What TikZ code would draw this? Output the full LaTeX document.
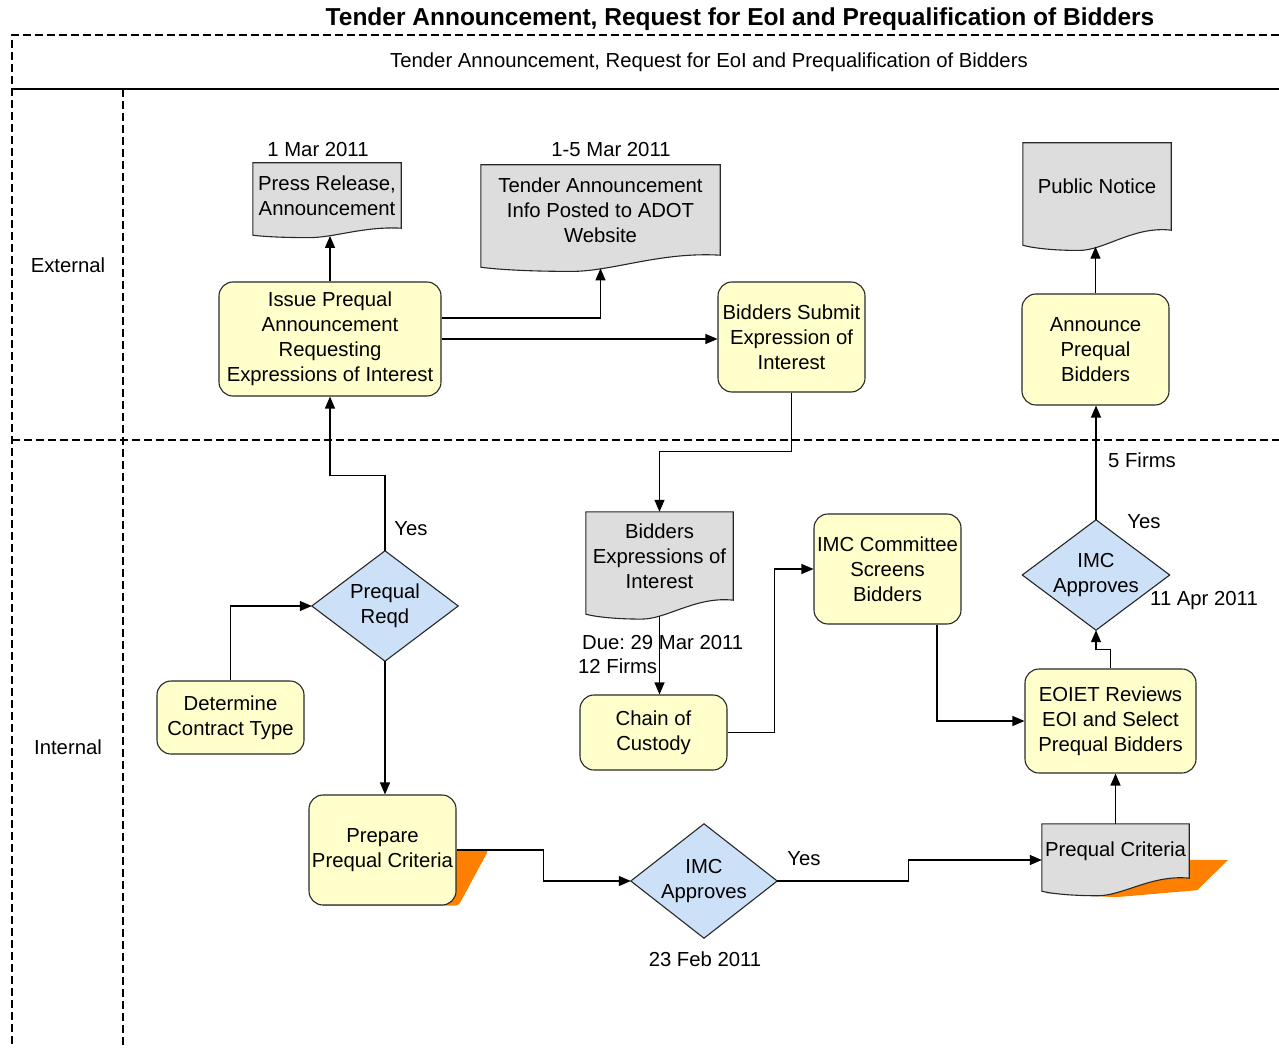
\documentclass[tikz,border=0pt]{standalone}
\usepackage{fontspec}
\setmainfont{Liberation Sans}
\usetikzlibrary{arrows.meta,calc,backgrounds}
\frenchspacing

\definecolor{boxyellow}{RGB}{255,255,204}
\definecolor{docgrey}{RGB}{221,221,221}
\definecolor{decblue}{RGB}{204,224,248}
\definecolor{shadeorange}{RGB}{255,128,0}
\definecolor{edge}{RGB}{40,40,40}

% Paper-document outline with a wavy lower edge, drawn behind the named node #1;
% #2 is the depth of the wave. Also defines (#1-b), a point on the wave below the centre.
\newcommand\docpaper[2]{%
  \coordinate (#1-b) at ($(#1.south)+(0,1.1*#2)$);
  \begin{scope}[on background layer]
    \draw[draw=edge, line width=1.1pt, fill=docgrey]
      (#1.north west) -- (#1.north east) -- (#1.south east)
      .. controls ($(#1.south east)!0.25!(#1.south west)+(0,-0.3*#2)$)
              and ($(#1.south east)!0.45!(#1.south west)+(0,1.35*#2)$)
      .. ($(#1.south east)!0.62!(#1.south west)+(0,1.35*#2)$)
      .. controls ($(#1.south east)!0.82!(#1.south west)+(0,1.35*#2)$)
              and ($(#1.south east)!0.95!(#1.south west)+(0,1.15*#2)$)
      .. ($(#1.south west)+(0,#2)$) -- cycle;
  \end{scope}}

% Decision diamond through the four side anchors of node #1
\newcommand\decisionshape[1]{%
  \begin{scope}[on background layer]
    \draw[draw=edge, line width=1.1pt, fill=decblue]
      (#1.north) -- (#1.east) -- (#1.south) -- (#1.west) -- cycle;
  \end{scope}}

\begin{document}
\begin{tikzpicture}[x=1pt, y=-1pt,
  every node/.style={font=\fontsize{20.3}{25}\selectfont, text=black},
  stepbox/.style={draw=edge, line width=1.1pt, fill=boxyellow, rounded corners=14pt,
                  align=center, inner sep=0pt, minimum width=147pt, minimum height=110pt},
  docbox/.style={align=center, inner sep=0pt, minimum width=147pt},
  decbox/.style={align=center, inner sep=0pt, minimum width=146pt, minimum height=110pt},
  link/.style={line width=1.2pt, draw=black, -{Triangle[length=12pt,width=10pt]}},
  lane/.style={line width=1.2pt, dash pattern=on 8pt off 4pt},
  lbl/.style={inner sep=0pt}]

\useasboundingbox (0,0) rectangle (1279,1048);
\begin{scope}[on background layer]
  \fill[white] (0,0) rectangle (1279,1048);
\end{scope}

% ---------- frame and swimlanes ----------
\draw[lane] (1279,35) -- (12,35) -- (12,1048);
\draw[line width=1.6pt] (12,89) -- (1279,89);
\draw[lane] (123,89) -- (123,1048);
\draw[lane] (12,440) -- (1279,440);

\node[lbl, font=\fontsize{24.5}{29}\selectfont\bfseries] (title) at (740,19)
  {Tender Announcement, Request for EoI and Prequalification of Bidders};
\node[lbl] (header) at (709,62)
  {Tender Announcement, Request for EoI and Prequalification of Bidders};
\node[lbl] (extlane) at (68,265) {External};
\node[lbl] (intlane) at (68,747) {Internal};

% ---------- process steps ----------
\node[stepbox, minimum width=222pt, minimum height=114pt] (issue) at (330,339)
  {Issue Prequal\\Announcement\\Requesting\\Expressions of Interest};
\node[stepbox] (bsubmit) at (791.5,337) {Bidders Submit\\Expression of\\Interest};
\node[stepbox, minimum height=111pt] (announce) at (1095.5,349.5) {Announce\\Prequal\\Bidders};
\node[stepbox, minimum height=73pt] (determine) at (230.5,717.5) {Determine\\Contract Type};
\node[stepbox, minimum height=75pt] (chain) at (653.5,732.5) {Chain of\\Custody};
\node[stepbox] (imcscreen) at (887.5,569) {IMC Committee\\Screens\\Bidders};
\node[stepbox, minimum width=171pt, minimum height=104pt] (eoiet) at (1110.5,721)
  {EOIET Reviews\\EOI and Select\\Prequal Bidders};

% Prepare Prequal Criteria with its orange backing
\node[stepbox] (prepare) at (382.5,850) {Prepare\\Prequal Criteria};
\begin{scope}[on background layer]
  \fill[shadeorange, rounded corners=3pt]
    ($(prepare.east)+(-30,0)$) -- ($(prepare.east)+(32,0)$)
    -- ($(prepare.south east)+(2,0)$) -- ($(prepare.south west)+(12,0)$)
    -- ($(prepare.south west)+(12,-40)$) -- cycle;
\end{scope}

% ---------- decisions ----------
\node[decbox] (reqd) at (385,606) {Prequal\\Reqd};
\decisionshape{reqd}
\node[decbox, minimum height=114pt] (imcb) at (704,881) {IMC\\Approves};
\decisionshape{imcb}
\node[decbox, minimum width=147pt] (imct) at (1096,575) {IMC\\Approves};
\decisionshape{imct}

% ---------- documents ----------
\node[docbox, minimum width=148pt, minimum height=65pt] (press) at (327,195.5)
  {Press Release,\\Announcement};
\docpaper{press}{7}
\node[docbox, minimum width=239pt, minimum height=90pt] (tender) at (600.5,210)
  {Tender Announcement\\Info Posted to ADOT\\Website};
\docpaper{tender}{12}
\node[docbox, minimum width=148pt, minimum height=87pt] (public) at (1097,186.5)
  {Public Notice};
\docpaper{public}{15}
\node[docbox, minimum height=88pt] (bideoi) at (659.5,556)
  {Bidders\\Expressions of\\Interest};
\docpaper{bideoi}{14}
\node[docbox, minimum height=54pt] (pcrit) at (1115.5,851) {Prequal Criteria};
\begin{scope}[on background layer]
  \fill[shadeorange]
    ($(pcrit.north east)+(0,36)$) -- ++(39,0)
    -- ($(pcrit.south east)+(8,12)$) -- ($(pcrit.south)+(0,19)$)
    -- ($(pcrit.south west)+(4,15)$) -- ($(pcrit.south west)+(4,0)$) -- cycle;
\end{scope}
\docpaper{pcrit}{13}

% ---------- labels ----------
\node[lbl] (dpress) at (318,150) {1 Mar 2011};
\node[lbl] (dtender) at (611,150) {1-5 Mar 2011};
\node[lbl] (yesreqd) at (411,529) {Yes};
\node[lbl, anchor=west] (due) at (582,643) {Due: 29 Mar 2011};
\node[lbl, anchor=west] (firms12) at (578,666) {12 Firms};
\node[lbl] (dfeb) at (705,959) {23 Feb 2011};
\node[lbl] (yesb) at (804,859) {Yes};
\node[lbl] (yest) at (1144,522) {Yes};
\node[lbl] (dapr) at (1204,601) {11 Apr 2011};
\node[lbl] (firms5) at (1142,460) {5 Firms};

% ---------- connectors ----------
\draw[link] (issue.north) -- (issue.north |- press-b);
\draw[link] ($(issue.east)+(0,-21)$) -| (tender-b);
\draw[link] (issue.east) -- (issue.east -| bsubmit.west);
\draw[link] (bsubmit.south) |- ($(bideoi.north)+(0,-60)$) -- (bideoi.north);
\draw[link] (reqd.north) |- ($(issue.south)+(0,79)$) -- (issue.south);
\draw[link] (determine.north) |- (reqd.west);
\draw[link] (reqd.south) -- (reqd.south |- prepare.north);
\draw[link] (prepare.east) -- ++(87,0) |- (imcb.west);
\draw[link] (imcb.east) -- ++(131,0) |- ($(pcrit.west)+(0,9)$);
\draw[link] (pcrit.north) -- (pcrit.north |- eoiet.south);
\draw[link] (eoiet.north) -- ++(0,-19) -| (imct.south);
\draw[link] (imct.north) -- (imct.north |- announce.south);
\draw[link] (announce.north) -- (announce.north |- public-b);
\draw[link] (bideoi-b) -- (bideoi-b |- chain.north);
\draw[link] (chain.east) -- ++(47,0) |- (imcscreen.west);
\draw[link] ($(imcscreen.south)+(49.5,0)$) |- (eoiet.west);

\end{tikzpicture}
\end{document}
